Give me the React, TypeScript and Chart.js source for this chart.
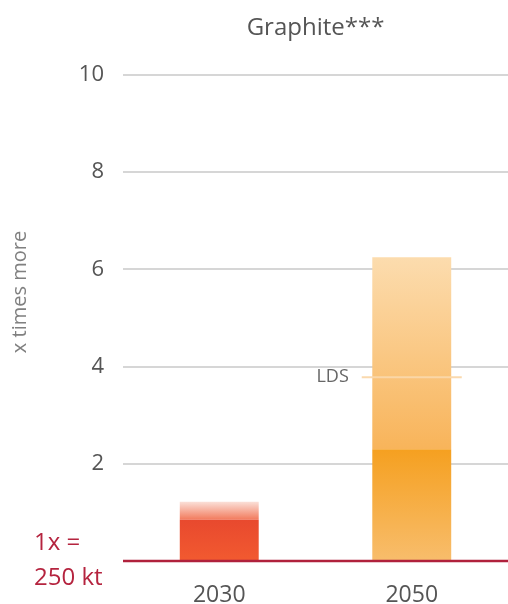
import React, { useEffect, useRef } from "react";
import { Chart, registerables } from "chart.js";

Chart.register(...registerables);

const categories = ["2030", "2050"];
const baseValues = [0.85, 2.3];
const extraValues = [0.37, 3.95];
const ldsValue = 3.78;
const yTicks = [0, 2, 4, 6, 8, 10];
const titleText = "Graphite***";
const yTitle = "x times more";
const baseNote = ["1x =", "250 kt"];

const FONT = "'Open Sans', 'DejaVu Sans', sans-serif";

export default function App() {
  const ref = useRef<HTMLCanvasElement>(null);
  useEffect(() => {
    const canvas = ref.current!;
    const yPix = (chart: any, v: number) => chart.scales.y.getPixelForValue(v);

    const baseColor = (ctx: any) => {
      const chart = ctx.chart;
      if (!chart.chartArea) return "#ee5030";
      const i = ctx.dataIndex;
      const top = yPix(chart, baseValues[i]);
      const bot = yPix(chart, 0);
      const g = chart.ctx.createLinearGradient(0, top, 0, bot);
      if (i === 0) {
        g.addColorStop(0, "#e8492e");
        g.addColorStop(1, "#f25a30");
      } else {
        g.addColorStop(0, "#f5a020");
        g.addColorStop(1, "#f8bd6c");
      }
      return g;
    };
    const extraColor = (ctx: any) => {
      const chart = ctx.chart;
      if (!chart.chartArea) return "#f8c080";
      const i = ctx.dataIndex;
      const top = yPix(chart, baseValues[i] + extraValues[i]);
      const bot = yPix(chart, baseValues[i]);
      const g = chart.ctx.createLinearGradient(0, top, 0, bot);
      if (i === 0) {
        g.addColorStop(0, "#fbe0d8");
        g.addColorStop(1, "#f27a5c");
      } else {
        g.addColorStop(0, "#fcdcae");
        g.addColorStop(1, "#f8b45a");
      }
      return g;
    };

    const overlay = {
      id: "overlay",
      afterDatasetsDraw(chart: any) {
        const c = chart.ctx;
        const area = chart.chartArea;
        const meta = chart.getDatasetMeta(0);
        const bar = meta.data[1];
        const y = yPix(chart, ldsValue);
        c.save();
        c.strokeStyle = "rgba(250,215,170,0.95)";
        c.lineWidth = 2;
        c.beginPath();
        c.moveTo(bar.x - 50, y);
        c.lineTo(bar.x + 50, y);
        c.stroke();
        c.fillStyle = "#666";
        c.font = `18px ${FONT}`;
        c.textAlign = "right";
        c.textBaseline = "middle";
        c.fillText("LDS", bar.x - 63, y);
        // title
        c.fillStyle = "#555";
        c.font = `24px ${FONT}`;
        c.textAlign = "center";
        c.fillText(titleText, (area.left + area.right) / 2, 28);
        // y title
        c.save();
        c.translate(20, 292);
        c.rotate(-Math.PI / 2);
        c.fillStyle = "#808080";
        c.font = `20px ${FONT}`;
        c.fillText(yTitle, 0, 0);
        c.restore();
        // baseline
        const y0 = yPix(chart, 0);
        c.strokeStyle = "#b0213c";
        c.lineWidth = 2.5;
        c.beginPath();
        c.moveTo(area.left, y0);
        c.lineTo(chart.width, y0);
        c.stroke();
        // note
        c.fillStyle = "#b5243f";
        c.font = `24px ${FONT}`;
        c.textAlign = "left";
        c.fillText(baseNote[0], 34, 543);
        c.fillText(baseNote[1], 34, 578);
        c.restore();
      },
    };

    const chart = new Chart(canvas, {
      type: "bar",
      data: {
        labels: categories,
        datasets: [
          {
            data: baseValues,
            backgroundColor: baseColor as any,
            borderWidth: 0,
            categoryPercentage: 0.82,
            barPercentage: 0.5,
          },
          {
            data: extraValues,
            backgroundColor: extraColor as any,
            borderWidth: 0,
            categoryPercentage: 0.82,
            barPercentage: 0.5,
          },
        ],
      },
      options: {
        animation: false,
        responsive: false,
        devicePixelRatio: 1,
        layout: { padding: { top: 75, right: 0, left: 0, bottom: 0 } },
        plugins: { legend: { display: false }, tooltip: { enabled: false } },
        scales: {
          x: {
            stacked: true,
            grid: { display: false },
            border: { display: false },
            ticks: { color: "#555", font: { family: FONT, size: 23 }, padding: 13 },
            afterFit: (s: any) => {
              s.height = 43;
            },
          },
          y: {
            stacked: true,
            min: 0,
            max: 10,
            afterBuildTicks: (s: any) => {
              s.ticks = yTicks.map((v) => ({ value: v }));
            },
            grid: {
              color: (ctx: any) => (ctx.tick && ctx.tick.value === 0 ? "rgba(0,0,0,0)" : "#d6d6d6"),
              lineWidth: 2,
              drawTicks: false,
            },
            border: { display: false },
            ticks: {
              color: "#555",
              font: { family: FONT, size: 22 },
              padding: 19,
              callback: (v: any) => (v === 0 ? "" : String(v)),
            },
            afterFit: (s: any) => {
              s.width = 123;
            },
          },
        },
      },
      plugins: [overlay],
    });
    return () => chart.destroy();
  }, []);
  return (
    <div style={{ position: "absolute", left: 0, top: 0, width: 508, height: 604, background: "#fff" }}>
      <canvas ref={ref} width={508} height={604} />
    </div>
  );
}
